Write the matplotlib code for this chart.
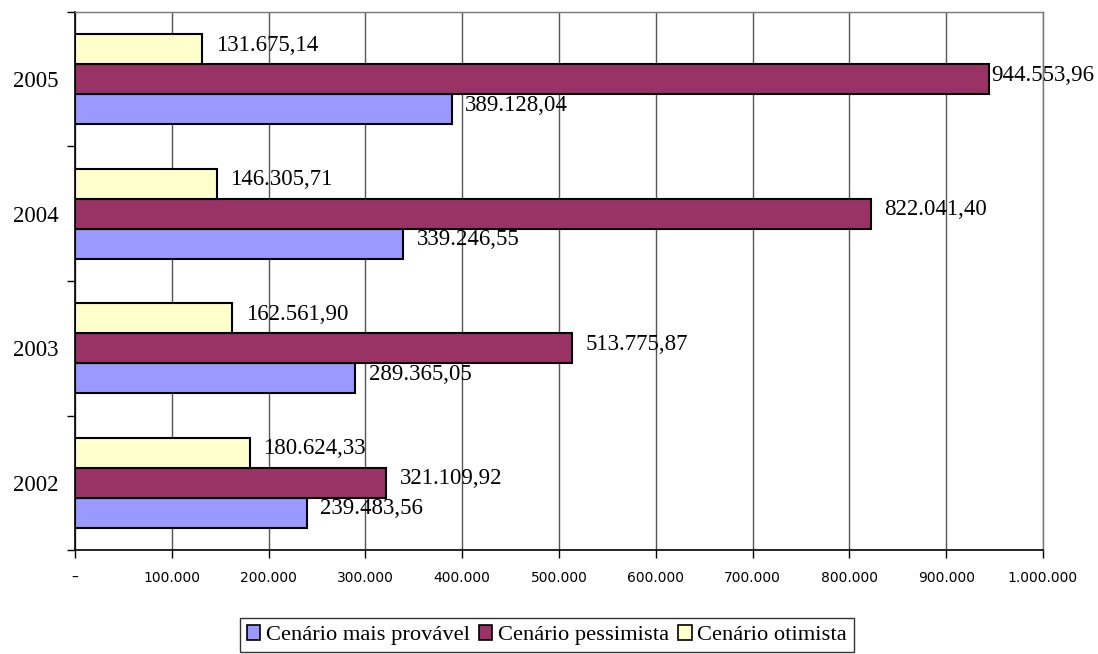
import matplotlib.pyplot as plt
import numpy as np

# Data
anos = ["2002", "2003", "2004", "2005"]
mais_provavel = [239483.56, 289365.05, 339246.55, 389128.04]
pessimista = [321109.92, 513775.87, 822041.40, 944553.96]
otimista = [180624.33, 162561.90, 146305.71, 131675.14]
x_ticks = [0, 100000, 200000, 300000, 400000, 500000, 600000, 700000, 800000, 900000, 1000000]
x_labels = ["–", "100.000", "200.000", "300.000", "400.000", "500.000",
            "600.000", "700.000", "800.000", "900.000", "1.000.000"]


def fmt_br(v):
    s = f"{v:,.2f}"
    return s.replace(",", "X").replace(".", ",").replace("X", ".")


serif = ["Liberation Serif", "DejaVu Serif"]
fs = 16.5

fig = plt.figure(figsize=(10.98, 6.54), dpi=100)
ax = fig.add_axes([0.0683, 0.159, 0.8816, 0.8227])

y = np.arange(len(anos))
h = 0.223
series = [
    (mais_provavel, "#9999FF", "Cenário mais provável", -h),
    (pessimista, "#993366", "Cenário pessimista", 0.0),
    (otimista, "#FFFFCC", "Cenário otimista", h),
]

for vals, cor, nome, off in series:
    ax.barh(y + off, vals, height=h, color=cor, edgecolor="black",
            linewidth=1.5, label=nome, zorder=3)
    for yi, v in zip(y, vals):
        xt = min(v + 14000, 946300)
        ax.text(xt, yi + off + 0.03, fmt_br(v), va="center", ha="left",
                fontsize=fs, family=serif, zorder=4)

ax.set_xlim(0, 1000000)
ax.set_ylim(-0.5, 3.5)

ax.set_xticks(x_ticks)
ax.set_xticklabels(x_labels, fontsize=10, family="DejaVu Sans")
ax.tick_params(axis="x", length=6, width=1, color="black", pad=9)
ax.grid(axis="x", color="#555555", linewidth=1, zorder=0)

ax.set_yticks(y)
ax.set_yticklabels(anos, fontsize=fs, family=serif)
ax.tick_params(axis="y", which="major", length=0, pad=12)
ax.set_yticks(np.arange(-0.5, 4, 1), minor=True)
ax.tick_params(axis="y", which="minor", length=6, width=1, color="black")

for s in ["left", "bottom"]:
    ax.spines[s].set_color("black")
    ax.spines[s].set_linewidth(1.2)
for s in ["top", "right"]:
    ax.spines[s].set_color("#777777")
    ax.spines[s].set_linewidth(1)

leg = fig.legend(loc="lower center", bbox_to_anchor=(0.498, 0.003), ncol=3,
                 frameon=True, fancybox=False, edgecolor="black",
                 prop={"family": serif, "size": 16.2},
                 handlelength=0.6, handleheight=0.6, handletextpad=0.25,
                 columnspacing=0.4, borderpad=0.3, borderaxespad=0)
leg.get_frame().set_linewidth(1)
for p in leg.get_patches():
    p.set_linewidth(1.2)

fig.savefig("out.png", dpi=100)
